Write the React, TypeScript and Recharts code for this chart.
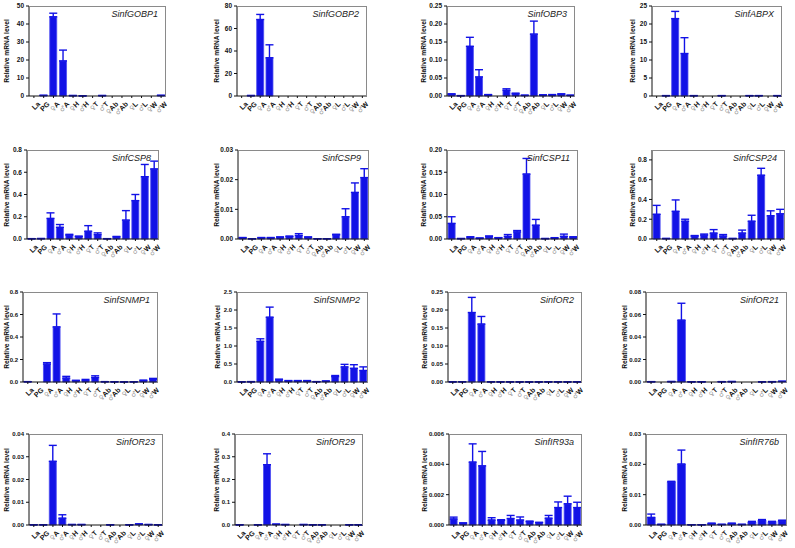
import { BarChart, Bar, XAxis, YAxis, ErrorBar } from "recharts";

const cats = ["La", "PG", "♀A", "♂A", "♀H", "♂H", "♀T", "♂T", "♀Ab", "♂Ab", "♀L", "♂L", "♀W", "♂W"];

const gobp1 = [0, 0.3, 44, 19.5, 0.2, 0.1, 0, 0.2, 0, 0, 0, 0, 0, 0.3];
const gobp1Err = [0, 0.1, 2, 6, 0.1, 0, 0, 0.1, 0, 0, 0, 0, 0, 0.1];
const gobp1Ticks = [0, 10, 20, 30, 40, 50];

const gobp2 = [0, 0.3, 68, 34, 0, 0, 0, 0, 0, 0, 0, 0, 0, 0];
const gobp2Err = [0, 0.2, 4.5, 11.5, 0, 0, 0, 0, 0, 0, 0, 0, 0, 0];
const gobp2Ticks = [0, 20, 40, 60, 80];

const obp3 = [0.005, 0.001, 0.138, 0.053, 0.003, 0, 0.016, 0.006, 0.002, 0.172, 0.003, 0.003, 0.005, 0.002];
const obp3Err = [0.001, 0, 0.025, 0.02, 0.001, 0, 0.004, 0.002, 0, 0.036, 0, 0.001, 0.001, 0];
const obp3Ticks = [0, 0.05, 0.1, 0.15, 0.2, 0.25];

const abpx = [0, 0.1, 21.5, 11.8, 0.1, 0, 0, 0.1, 0, 0, 0.1, 0.1, 0, 0.1];
const abpxErr = [0, 0, 2, 4.4, 0, 0, 0, 0, 0, 0, 0, 0, 0, 0];
const abpxTicks = [0, 5, 10, 15, 20, 25];

const csp8 = [0.003, 0.004, 0.185, 0.105, 0.035, 0.022, 0.07, 0.04, 0.003, 0.018, 0.17, 0.345, 0.56, 0.63];
const csp8Err = [0, 0, 0.05, 0.025, 0.007, 0.004, 0.05, 0.015, 0, 0.005, 0.085, 0.055, 0.11, 0.07];
const csp8Ticks = [0, 0.2, 0.4, 0.6, 0.8];

const csp9 = [0.0004, 0.0001, 0.0004, 0.0004, 0.0006, 0.0008, 0.0012, 0.0006, 0.0001, 0.0001, 0.0014, 0.0075, 0.0157, 0.0207];
const csp9Err = [0.0001, 0, 0.0001, 0.0001, 0.0001, 0.0002, 0.0006, 0.0001, 0, 0, 0.0002, 0.0027, 0.0032, 0.003];
const csp9Ticks = [0, 0.01, 0.02, 0.03];

const csp11 = [0.035, 0.001, 0.004, 0.002, 0.005, 0.003, 0.006, 0.016, 0.146, 0.031, 0.001, 0.002, 0.006, 0.004];
const csp11Err = [0.015, 0, 0.001, 0, 0.002, 0, 0.004, 0.003, 0.035, 0.013, 0, 0.001, 0.005, 0.001];
const csp11Ticks = [0, 0.05, 0.1, 0.15, 0.2];

const csp24 = [0.25, 0.005, 0.28, 0.18, 0.03, 0.04, 0.06, 0.03, 0.005, 0.06, 0.18, 0.645, 0.235, 0.255];
const csp24Err = [0.09, 0, 0.115, 0.02, 0.005, 0.01, 0.035, 0.015, 0, 0.03, 0.06, 0.07, 0.05, 0.045];
const csp24Ticks = [0, 0.2, 0.4, 0.6, 0.8];

const snmp1 = [0.003, 0, 0.16, 0.49, 0.035, 0.012, 0.013, 0.04, 0.003, 0.002, 0.001, 0.002, 0.012, 0.025];
const snmp1Err = [0, 0, 0.012, 0.115, 0.015, 0.003, 0.01, 0.015, 0, 0, 0, 0, 0.005, 0.007];
const snmp1Ticks = [0, 0.2, 0.4, 0.6, 0.8];

const snmp2 = [0.005, 0.01, 1.13, 1.8, 0.06, 0.03, 0.03, 0.03, 0.01, 0.02, 0.15, 0.42, 0.38, 0.32];
const snmp2Err = [0, 0, 0.07, 0.28, 0.02, 0.01, 0.01, 0.01, 0, 0.01, 0.03, 0.07, 0.1, 0.1];
const snmp2Ticks = [0, 0.5, 1, 1.5, 2, 2.5];

const or2 = [0.0005, 0.0008, 0.193, 0.161, 0.0006, 0.0004, 0.0005, 0.0004, 0.0003, 0.0003, 0.0005, 0.0005, 0.0004, 0.0005];
const or2Err = [0, 0, 0.042, 0.021, 0, 0, 0, 0, 0, 0, 0, 0, 0, 0];
const or2Ticks = [0, 0.05, 0.1, 0.15, 0.2, 0.25];

const or21 = [0.0003, 0, 0.0004, 0.055, 0.0002, 0.0002, 0, 0.0003, 0.0004, 0, 0, 0.0002, 0.0003, 0.0006];
const or21Err = [0, 0, 0, 0.015, 0, 0, 0, 0, 0, 0, 0, 0, 0, 0];
const or21Ticks = [0, 0.02, 0.04, 0.06, 0.08];

const or23 = [0.0001, 0.0001, 0.028, 0.003, 0.0002, 0.0002, 0, 0, 0.0001, 0, 0.0001, 0.0004, 0.0002, 0.0001];
const or23Err = [0, 0, 0.007, 0.0015, 0, 0, 0, 0, 0, 0, 0, 0.0001, 0, 0];
const or23Ticks = [0, 0.01, 0.02, 0.03, 0.04];

const or29 = [0.001, 0, 0.001, 0.265, 0.003, 0.002, 0, 0.002, 0.001, 0.001, 0, 0, 0.001, 0.001];
const or29Err = [0, 0, 0, 0.048, 0.001, 0, 0, 0, 0, 0, 0, 0, 0, 0];
const or29Ticks = [0, 0.1, 0.2, 0.3, 0.4];

const ir93a = [0.0004, 0.00012, 0.00415, 0.0039, 0.00033, 0.0003, 0.00043, 0.00033, 0.00022, 0.00015, 0.00045, 0.00115, 0.0014, 0.00115];
const ir93aErr = [0.00012, 0.00002, 0.0012, 0.00095, 0.00015, 0.00005, 0.0002, 0.0002, 0.00004, 0.00003, 0.00018, 0.00037, 0.0005, 0.00035];
const ir93aTicks = [0, 0.002, 0.004, 0.006];

const ir76b = [0.0025, 0.0002, 0.0142, 0.0201, 0.0001, 0.0001, 0.0005, 0.0002, 0.0005, 0.0002, 0.001, 0.0016, 0.0011, 0.0014];
const ir76bErr = [0.0011, 0, 0.0002, 0.0046, 0, 0, 0.0001, 0, 0.0001, 0, 0.0002, 0.0002, 0.0001, 0.0002];
const ir76bTicks = [0, 0.01, 0.02, 0.03];

const panels = [
  { title: "SinfGOBP1", vals: gobp1, errs: gobp1Err, ticks: gobp1Ticks, max: 50, dec: 0 },
  { title: "SinfGOBP2", vals: gobp2, errs: gobp2Err, ticks: gobp2Ticks, max: 80, dec: 0 },
  { title: "SinfOBP3", vals: obp3, errs: obp3Err, ticks: obp3Ticks, max: 0.25, dec: 2 },
  { title: "SinfABPX", vals: abpx, errs: abpxErr, ticks: abpxTicks, max: 25, dec: 0 },
  { title: "SinfCSP8", vals: csp8, errs: csp8Err, ticks: csp8Ticks, max: 0.8, dec: 1 },
  { title: "SinfCSP9", vals: csp9, errs: csp9Err, ticks: csp9Ticks, max: 0.03, dec: 2 },
  { title: "SinfCSP11", vals: csp11, errs: csp11Err, ticks: csp11Ticks, max: 0.2, dec: 2 },
  { title: "SinfCSP24", vals: csp24, errs: csp24Err, ticks: csp24Ticks, max: 0.9, dec: 1 },
  { title: "SinfSNMP1", vals: snmp1, errs: snmp1Err, ticks: snmp1Ticks, max: 0.8, dec: 1 },
  { title: "SinfSNMP2", vals: snmp2, errs: snmp2Err, ticks: snmp2Ticks, max: 2.5, dec: 1 },
  { title: "SinfOR2", vals: or2, errs: or2Err, ticks: or2Ticks, max: 0.25, dec: 2 },
  { title: "SinfOR21", vals: or21, errs: or21Err, ticks: or21Ticks, max: 0.08, dec: 2 },
  { title: "SinfOR23", vals: or23, errs: or23Err, ticks: or23Ticks, max: 0.04, dec: 2 },
  { title: "SinfOR29", vals: or29, errs: or29Err, ticks: or29Ticks, max: 0.4, dec: 1 },
  { title: "SinfIR93a", vals: ir93a, errs: ir93aErr, ticks: ir93aTicks, max: 0.006, dec: 3 },
  { title: "SinfIR76b", vals: ir76b, errs: ir76bErr, ticks: ir76bTicks, max: 0.03, dec: 2 },
];

// plot-area boxes [left, top, width, height, y-label centre x, tick font] in page pixels
const boxes = [
  [29, 6, 137, 90, 6, 6.5], [237, 6, 130, 90, 216, 6.5], [447, 6, 128, 90, 423, 6.5], [652, 6, 130, 90, 632, 6.5],
  [27, 150, 132, 89, 6, 6.5], [238, 150, 131, 89, 216, 6.5], [447, 150, 131, 89, 423, 6.5], [652, 150, 133, 89, 632, 6.5],
  [23, 292, 135, 90, 6, 6], [237, 292, 131, 90, 217, 6], [448, 292, 134, 90, 424, 6], [646, 292, 141, 90, 624, 6],
  [29, 434, 134, 91, 6, 6], [235, 434, 128, 91, 216, 6], [449, 434, 133, 91, 424, 6], [646, 434, 141, 91, 624, 6],
];

const FONT = '"Liberation Sans", Arial, sans-serif';
const BLUE = "#1212e6";

function CatTick(props: any) {
  const { x, y, payload } = props;
  const v: string = payload.value;
  const sym = v[0] === "♀" || v[0] === "♂" ? v[0] : "";
  const rest = sym ? v.slice(1) : v;
  return (
    <g transform={`translate(${x + 3},${y + 1})`}>
      <text transform="rotate(-45)" textAnchor="end" dy={5} fontSize={7} fontWeight="bold" fill="#111" fontFamily={FONT}>
        {sym ? (
          <tspan fill="#999" fontWeight="normal" fontFamily='"DejaVu Sans", sans-serif' fontSize={6.5}>
            {sym}
          </tspan>
        ) : null}
        <tspan>{rest}</tspan>
      </text>
    </g>
  );
}

function Panel({ p, box }: { p: (typeof panels)[number]; box: number[] }) {
  const [left, top, w, h, labelX, tickFont] = box;
  const data = cats.map((c, i) => ({ cat: c, v: p.vals[i], e: [0, p.errs[i]] }));
  const cw = 30 + w + 6;
  const ch = 5 + h + 34;
  const ox = left - 30;
  return (
    <div style={{ position: "absolute", left: ox, top: top - 5, width: cw, height: ch }}>
      <BarChart width={cw} height={ch} data={data} margin={{ top: 5, right: 6, bottom: 0, left: 0 }} barCategoryGap="12%">
        <XAxis
          dataKey="cat"
          interval={0}
          height={34}
          tick={<CatTick />}
          tickLine={{ stroke: "#111" }}
          tickSize={2}
          axisLine={{ stroke: "#111" }}
        />
        <YAxis
          width={30}
          domain={[0, p.max]}
          ticks={p.ticks}
          tickFormatter={(t: number) => t.toFixed(p.dec)}
          tick={{ fontSize: tickFont, fontWeight: "bold", fill: "#111", fontFamily: FONT }}
          tickLine={{ stroke: "#111" }}
          tickSize={3}
          axisLine={{ stroke: "#111" }}
        />
        <Bar dataKey="v" fill={BLUE} stroke="#4b4bf2" strokeWidth={0.8} isAnimationActive={false}>
          <ErrorBar dataKey="e" direction="y" width={4} stroke={BLUE} strokeWidth={1.4} />
        </Bar>
      </BarChart>
      {/* grey top/right frame of the plot area */}
      <div
        style={{
          position: "absolute",
          left: 30,
          top: 5,
          width: w,
          height: h,
          borderTop: "1px solid #8a8a8a",
          borderRight: "1px solid #8a8a8a",
          boxSizing: "border-box",
          pointerEvents: "none",
        }}
      />
      <div
        style={{
          position: "absolute",
          left: labelX - ox,
          top: 5 + h / 2,
          transform: "translate(-50%, -50%) rotate(-90deg)",
          fontFamily: FONT,
          fontSize: 6.6,
          fontWeight: "bold",
          whiteSpace: "nowrap",
          color: "#111",
        }}
      >
        Relative mRNA level
      </div>
      <div
        style={{
          position: "absolute",
          right: 14,
          top: 8,
          fontFamily: FONT,
          fontSize: 9,
          fontStyle: "italic",
          color: "#222",
          whiteSpace: "nowrap",
        }}
      >
        {p.title}
      </div>
    </div>
  );
}

export default function App() {
  return (
    <div style={{ position: "absolute", left: 0, top: 0, width: 795, height: 548, background: "#fff" }}>
      {panels.map((p, i) => (
        <Panel key={p.title} p={p} box={boxes[i]} />
      ))}
    </div>
  );
}
